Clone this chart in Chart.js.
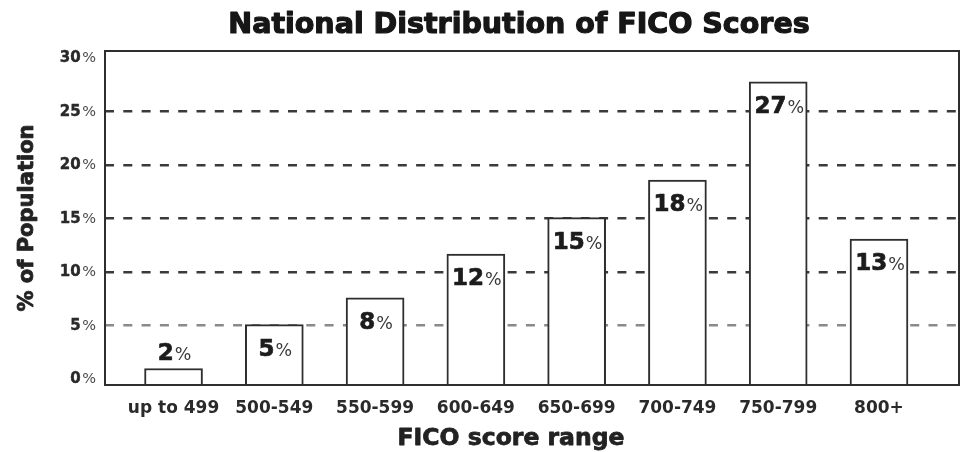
<!DOCTYPE html>
<html>
<head>
<meta charset="utf-8">
<script src="https://cdn.jsdelivr.net/npm/chart.js@4/dist/chart.umd.min.js"></script>
<style>
  html, body { margin: 0; padding: 0; background: #ffffff; }
  #wrap { width: 961px; height: 452px; }
</style>
</head>
<body>
<div id="wrap"><canvas id="c" width="961" height="452"></canvas></div>
<script>
// ---- data ----
const categories = ['up to 499', '500-549', '550-599', '600-649', '650-699', '700-749', '750-799', '800+'];
const shares = [1.0, 5.1, 7.6, 11.7, 15.1, 18.6, 27.8, 13.1];
const shareLabels = [2, 5, 8, 12, 15, 18, 27, 13];
const yTicks = [0, 5, 10, 15, 20, 25, 30];
const titleText = 'National Distribution of FICO Scores';
const xTitleText = 'FICO score range';
const yTitleText = '% of Population';

// ---- styling / layout constants ----
const FONT = "'DejaVu Sans', 'Liberation Sans', sans-serif";
const Y_MIN = -0.542, Y_MAX = 30.67;
const X_MIN = -0.68, X_MAX = 7.794;
const INK = '#222222';
const LINE = '#2e2e2e';

function heavyText(ctx, text, x, y, w) {
  ctx.fillText(text, x, y);
  ctx.lineWidth = w;
  ctx.strokeStyle = ctx.fillStyle;
  ctx.lineJoin = 'round';
  ctx.strokeText(text, x, y);
}

const decorPlugin = {
  id: 'decor',
  afterDatasetsDraw(chart) {
    const { ctx, chartArea: a } = chart;
    ctx.save();
    ctx.strokeStyle = LINE;
    ctx.lineWidth = 2;
    ctx.strokeRect(a.left, a.top, a.right - a.left, a.bottom - a.top);
    ctx.restore();
  },
  afterDraw(chart) {
    const { ctx } = chart;
    const ys = chart.scales.y;
    ctx.save();
    // main title
    ctx.fillStyle = '#161616';
    ctx.font = 'bold 28.5px ' + FONT;
    ctx.textAlign = 'center';
    ctx.textBaseline = 'alphabetic';
    heavyText(ctx, titleText, 519, 33, 1.2);
    // x title
    ctx.font = 'bold 23.5px ' + FONT;
    ctx.fillStyle = INK;
    heavyText(ctx, xTitleText, 511, 445, 0.8);
    // y title
    ctx.save();
    ctx.translate(33, 218);
    ctx.rotate(-Math.PI / 2);
    ctx.font = 'bold 21px ' + FONT;
    heavyText(ctx, yTitleText, 0, 0, 0.8);
    ctx.restore();

    // y tick labels: bold number + lighter percent sign
    ctx.textAlign = 'left';
    yTicks.forEach(v => {
      const y = ys.getPixelForValue(v);
      const num = String(v);
      ctx.font = '14.5px ' + FONT;
      const pw = ctx.measureText('%').width;
      ctx.font = 'bold 15px ' + FONT;
      const nw = ctx.measureText(num).width;
      const right = 96;
      ctx.fillStyle = '#2a2a2a';
      heavyText(ctx, num, right - pw - 1.5 - nw, y + 4, 0.4);
      ctx.font = '14.5px ' + FONT;
      ctx.fillStyle = '#4a4a4a';
      ctx.fillText('%', right - pw, y + 4);
    });

    // value labels on bars
    const meta = chart.getDatasetMeta(0);
    meta.data.forEach((bar, i) => {
      const num = String(shareLabels[i]);
      ctx.font = 'bold 23px ' + FONT;
      const nw = ctx.measureText(num).width;
      ctx.font = '17.5px ' + FONT;
      const pw = ctx.measureText('%').width;
      const total = nw + 1 + pw;
      const left = bar.x - total / 2 + 1;
      const h = bar.base - bar.y;
      const baseline = h < 34 ? bar.y - 8 : bar.y + 31;
      ctx.font = 'bold 23px ' + FONT;
      ctx.fillStyle = '#1c1c1c';
      heavyText(ctx, num, left, baseline, 0.7);
      ctx.font = '17.5px ' + FONT;
      ctx.fillStyle = '#3a3a3a';
      ctx.fillText('%', left + nw + 1, baseline);
    });
    ctx.restore();
  }
};

new Chart(document.getElementById('c'), {
  type: 'bar',
  data: {
    datasets: [{
      data: shares.map((v, i) => ({ x: i, y: v })),
      backgroundColor: '#ffffff',
      borderColor: LINE,
      borderWidth: 2,
      borderSkipped: 'start',
      barThickness: 58,
      base: Y_MIN
    }]
  },
  options: {
    responsive: false,
    animation: false,
    devicePixelRatio: 1,
    layout: { padding: { left: 0, right: 2, top: 51, bottom: 0 } },
    plugins: {
      legend: { display: false },
      title: { display: false },
      tooltip: { enabled: false }
    },
    scales: {
      x: {
        type: 'linear',
        min: X_MIN,
        max: X_MAX,
        offset: false,
        grid: { display: false, drawTicks: false },
        border: { display: false },
        afterBuildTicks: s => { s.ticks = categories.map((c, i) => ({ value: i })); },
        afterFit: s => { s.height = 67; },
        ticks: {
          autoSkip: false,
          maxRotation: 0,
          minRotation: 0,
          padding: 13,
          color: '#2a2a2a',
          font: { family: FONT, size: 17, weight: 'bold' },
          callback: v => categories[v]
        }
      },
      y: {
        min: Y_MIN,
        max: Y_MAX,
        afterBuildTicks: s => { s.ticks = yTicks.map(v => ({ value: v })); },
        afterFit: s => { s.width = 105; },
        ticks: { display: false },
        border: { display: false, dash: [9, 9.3] },
        grid: {
          drawTicks: false,
          lineWidth: 2.4,
          color: c => {
            const v = c.tick && c.tick.value;
            if (v === 0 || v === 30) return 'rgba(0,0,0,0)';
            if (v === 5) return '#8a8a8a';
            return '#3a3a3a';
          }
        }
      }
    }
  },
  plugins: [decorPlugin]
});
</script>
</body>
</html>
